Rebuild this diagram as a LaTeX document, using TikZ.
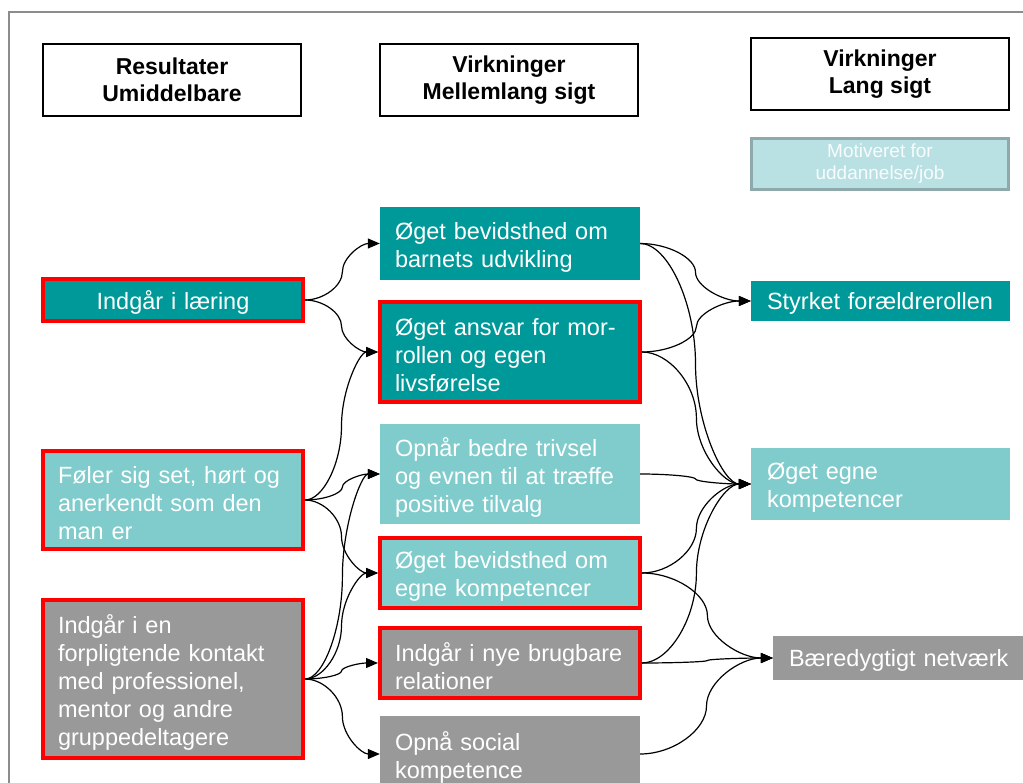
\documentclass[tikz,border=0pt]{standalone}
\usepackage{fontspec}
\setmainfont{Liberation Sans}
\usepackage{tikz}
\usetikzlibrary{arrows.meta,calc}

\definecolor{deepteal}{HTML}{009999}
\definecolor{paleteal}{HTML}{80CCCC}
\definecolor{midgrey}{HTML}{999999}
\definecolor{rimred}{HTML}{FF0000}
\definecolor{motfill}{HTML}{B9E1E4}
\definecolor{motrim}{HTML}{8DA9AB}
\definecolor{framegrey}{HTML}{8C8C8C}

\tikzset{
  head/.style={draw=black, line width=1.2pt, fill=white, minimum width=258pt, minimum height=72pt,
    align=center, font=\bfseries\fontsize{23}{27}\selectfont},
  txt/.style={text=white, text width=230pt, inner xsep=15pt, align=left, font=\fontsize{23.5}{28}\selectfont,
    execute at end node={\par\vspace{-7pt}}},
  dark/.style={txt, fill=deepteal},
  light/.style={txt, fill=paleteal},
  grey/.style={txt, fill=midgrey},
  redrim/.style={draw=rimred, line width=4pt},
  arr/.style={-{Triangle[length=12pt,width=10pt]}, line width=1.2pt}
}

% curved connector, horizontal at both ends
\newcommand{\flow}[2]{%
  \draw[arr] let \p1=(#1), \p2=(#2) in
    (\p1) .. controls ({0.75*\x1+0.25*\x2},\y1) and ({0.5*\x1+0.5*\x2},{0.75*\y1+0.25*\y2})
    .. ({0.5*\x1+0.5*\x2},{0.5*\y1+0.5*\y2})
    .. controls ({0.5*\x1+0.5*\x2},{0.25*\y1+0.75*\y2}) and ({0.25*\x1+0.75*\x2},\y2) .. (\p2);}

\begin{document}
\begin{tikzpicture}[x=1pt,y=-1pt]
\useasboundingbox (0,0) rectangle (1023,783);
\draw[framegrey, line width=2pt] (9,790) -- (9,12) -- (1030,12);

% column heads
\node[head] (h1) at (172,80) {Resultater\\Umiddelbare};
\node[head] (h2) at (509,80) {Virkninger\\Mellemlang sigt};
\node[head] (h3) at (880,74) {Virkninger\\Lang sigt};
\node[draw=motrim, line width=3pt, fill=motfill, text=white!90!motfill, minimum width=257pt, minimum height=51pt,
  align=center, font=\fontsize{19}{22}\selectfont] (mot) at (880,164) {Motiveret for\\uddannelse/job};

% left column
\node[dark, redrim, align=center, minimum height=42pt] (l1) at (173,300) {Indgår i læring};
\node[light, redrim, minimum height=98pt] (l2) at (173,500) {Føler sig set, hørt og\\anerkendt som den\\man er};
\node[grey, redrim, minimum height=158pt] (l3) at (173,679) {Indgår i en\\forpligtende kontakt\\med professionel,\\mentor og andre\\gruppedeltagere};

% middle column
\node[dark, minimum height=73pt] (m1) at (510,243.5) {Øget bevidsthed om\\barnets udvikling};
\node[dark, redrim, minimum height=100pt] (m2) at (510,352) {Øget ansvar for mor-\\rollen og egen\\livsførelse};
\node[light, minimum height=100pt] (m3) at (510,474) {Opnår bedre trivsel\\og evnen til at træffe\\positive tilvalg};
\node[light, redrim, minimum height=70pt] (m4) at (510,573) {Øget bevidsthed om\\egne kompetencer};
\node[grey, redrim, minimum height=70pt] (m5) at (510,663) {Indgår i nye brugbare\\relationer};
\node[grey, minimum height=76pt] (m6) at (510,754) {Opnå social\\kompetence};

% right column
\node[dark, minimum height=40pt, text width=227pt, inner xsep=16pt] (r1) at (880.5,301) {Styrket forældrerollen};
\node[light, minimum height=72pt, text width=227pt, inner xsep=16pt] (r2) at (880.5,484) {Øget egne\\kompetencer};
\node[grey, minimum height=44pt, text width=228pt, inner xsep=16pt] (r3) at (903,658) {Bæredygtigt netværk};

% connectors
\flow{l1.east}{m1.west}
\flow{l1.east}{m2.west}
\flow{l2.east}{m2.west}
\flow{l2.east}{m3.west}
\flow{l2.east}{m4.west}
\flow{l3.east}{m3.west}
\flow{l3.east}{m4.west}
\flow{l3.east}{m5.west}
\flow{l3.east}{m6.west}
\flow{m1.east}{r1.west}
\flow{m1.east}{r2.west}
\flow{m2.east}{r1.west}
\flow{m2.east}{r2.west}
\flow{m3.east}{r2.west}
\flow{m4.east}{r2.west}
\flow{m4.east}{r3.west}
\flow{m5.east}{r2.west}
\flow{m5.east}{r3.west}
\flow{m6.east}{r3.west}
\end{tikzpicture}
\end{document}
